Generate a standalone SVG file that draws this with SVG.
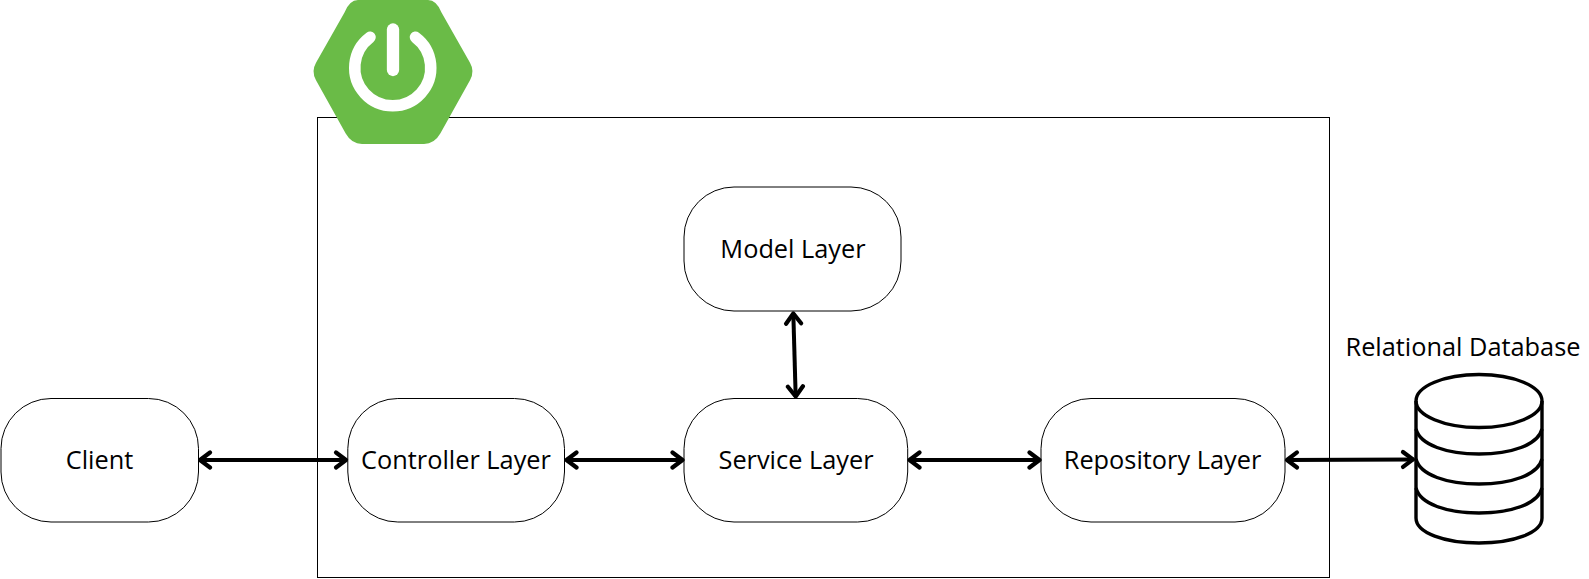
<svg xmlns="http://www.w3.org/2000/svg" width="1589" height="579" viewBox="0 0 1589 579">
<style>
.box{fill:#fff;stroke:#000;stroke-width:1}
.t{font-family:"Open Sans",sans-serif;font-size:25.33px;fill:#000;text-anchor:middle}
.c{fill:none;stroke:#000;stroke-width:4;marker-start:url(#h);marker-end:url(#h)}
.db{fill:none;stroke:#000;stroke-width:3.4}
</style>
<defs>
<marker id="h" viewBox="-16 -11 18 22" refX="0" refY="0" markerUnits="userSpaceOnUse" markerWidth="18" markerHeight="22" orient="auto-start-reverse">
<path d="M-10.5 -7.500L-0.500 0L-10.500 7.500" fill="none" stroke="#000" stroke-width="4.200" stroke-linecap="round" stroke-linejoin="round"/>
</marker>
</defs>
<rect x="0" y="0" width="1589" height="579" fill="#fff"/>
<rect id="frame" x="317.5" y="117.5" width="1012" height="460" fill="#fff" stroke="#000" stroke-width="1"/>
<g id="spring-logo">
<path fill="#6abb47" d="M358 0L428 0Q436.500 0 441.500 12.500L470 62.800Q475 71.500 470 80.200L440.300 133.600Q434.400 144 424 144L362 144Q351.600 144 345.700 133.600L316 80.200Q311 71.500 316 62.800L344.500 12.500Q349.500 0 358 0Z"/>
<path fill="none" stroke="#fff" stroke-width="11.500" stroke-linecap="round" d="M370 37.300A38 38 0 1 0 415.500 37.300"/>
<path fill="none" stroke="#fff" stroke-width="12.300" stroke-linecap="round" d="M393 29.500L393 70"/>
</g>
<g id="client"><rect class="box" x="1" y="398.500" width="197.500" height="123.500" rx="50" ry="50"/><text class="t" x="99.500" y="468.500">Client</text></g>
<g id="controller"><rect class="box" x="347.800" y="398.500" width="216.700" height="123.500" rx="50" ry="50"/><text class="t" x="456" y="468.500">Controller Layer</text></g>
<g id="service"><rect class="box" x="684" y="398.500" width="223.700" height="123.500" rx="50" ry="50"/><text class="t" x="796" y="468.500">Service Layer</text></g>
<g id="model"><rect class="box" x="684" y="187" width="217" height="124" rx="50" ry="50"/><text class="t" x="793" y="257.500">Model Layer</text></g>
<g id="repository"><rect class="box" x="1041" y="398.500" width="244" height="123.500" rx="50" ry="50"/><text class="t" x="1162.500" y="468.500">Repository Layer</text></g>
<g id="database">
<ellipse class="db" cx="1479" cy="401" rx="63" ry="26.500"/>
<path class="db" d="M1416 401L1416 518C1416 533 1445 543 1479 543C1513 543 1542 533 1542 518L1542 401"/>
<path class="db" d="M1416 429C1420 445 1447 454 1479 454C1511 454 1538 445 1542 429"/>
<path class="db" d="M1416 459C1420 475 1447 484 1479 484C1511 484 1538 475 1542 459"/>
<path class="db" d="M1416 488C1420 504 1447 513 1479 513C1511 513 1538 504 1542 488"/>
<text class="t" x="1463" y="355.500">Relational Database</text>
</g>
<g id="connectors">
<path class="c" d="M199.500 460L346.500 460"/>
<path class="c" d="M566 460L683 460"/>
<path class="c" d="M909 460L1040 460"/>
<path class="c" d="M1286.500 460L1413.500 459.400"/>
<path class="c" d="M793.300 313L795.700 397"/>
</g>
</svg>
